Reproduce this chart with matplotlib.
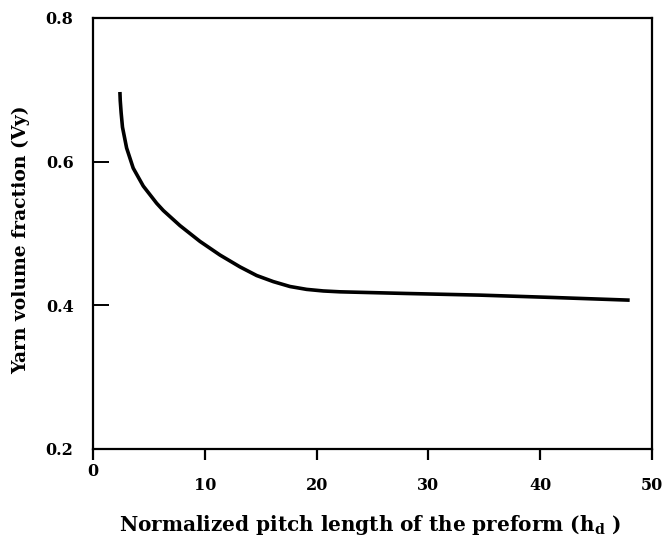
import matplotlib
matplotlib.use("Agg")
import matplotlib.pyplot as plt

# Data
x_vals = [2.41, 2.44, 2.52, 2.64, 3.01, 3.60, 4.50, 5.25, 5.70, 6.29, 7.78, 9.57, 11.36, 13.15, 14.64, 16.13, 17.62, 19.11, 20.6, 22.1, 28.0, 34.6, 41.0, 48.0]
y_vals = [0.697, 0.685, 0.668, 0.648, 0.619, 0.591, 0.566, 0.551, 0.542, 0.532, 0.511, 0.489, 0.470, 0.4535, 0.4415, 0.433, 0.4262, 0.4222, 0.4200, 0.4188, 0.4165, 0.4142, 0.411, 0.4072]
x_ticks = [0, 10, 20, 30, 40, 50]
y_ticks = [0.2, 0.4, 0.6, 0.8]

plt.rcParams['font.family'] = ['DejaVu Serif']
plt.rcParams['mathtext.fontset'] = 'custom'
plt.rcParams['mathtext.rm'] = 'DejaVu Serif:bold'
plt.rcParams['mathtext.it'] = 'DejaVu Serif:bold'
plt.rcParams['mathtext.bf'] = 'DejaVu Serif:bold'

fig = plt.figure(figsize=(6.64, 5.42), dpi=100)
ax = fig.add_axes([0.140, 0.1716, 0.842, 0.7952])

ax.plot(x_vals, y_vals, color='black', lw=2.6, solid_capstyle='butt', solid_joinstyle='round')

ax.set_xlim(0, 50)
ax.set_ylim(0.2, 0.8)
ax.set_xticks(x_ticks)
ax.set_xticklabels([str(v) for v in x_ticks])
ax.set_yticks(y_ticks)
ax.set_yticklabels([f"{v:.1f}" for v in y_ticks])

for s in ax.spines.values():
    s.set_linewidth(1.6)

ax.tick_params(axis='y', direction='in', length=11.5, width=1.4, pad=14, labelsize=11.5)
ax.tick_params(axis='x', direction='out', length=8, width=1.6, pad=12, labelsize=11.5)
ax.xaxis.get_major_ticks()[0].set_pad(2)
for lab in ax.get_xticklabels() + ax.get_yticklabels():
    lab.set_fontweight('bold')

fig.text(0.5575, 0.031, "Normalized pitch length of the preform (h$_\\mathregular{d}$ )",
         ha='center', va='center', fontsize=14.4, fontweight='bold')
fig.text(0.031, 0.557, "Yarn volume fraction (Vy)", rotation=90,
         ha='center', va='center', fontsize=13.5, fontweight='bold')

fig.savefig("out.png", dpi=100)
